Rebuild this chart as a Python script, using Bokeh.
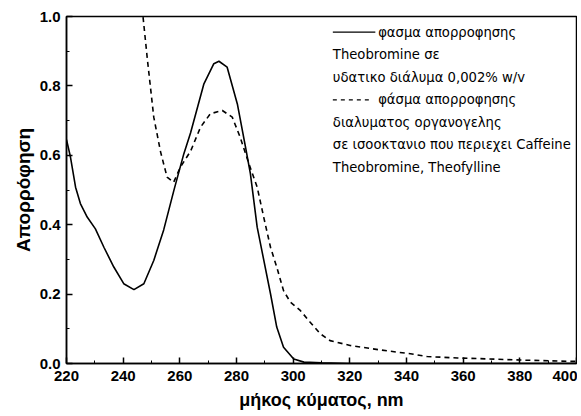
from bokeh.plotting import figure
from bokeh.embed import file_html
from bokeh.resources import INLINE
from bokeh.models import Range1d, FixedTicker, PrintfTickFormatter, Label, Arrow

# Solid curve: Theobromine in aqueous solution
wl_solid = [220, 221.4, 223.2, 224.9, 227.3, 230.2, 233.2, 236.7, 240.2, 243.8, 247.3, 250.8,
            254.3, 257.9, 261.4, 263.8, 268.5, 272, 273.8, 276.7, 280.3, 283.2, 284.9, 287.3,
            292, 294.2, 296.6, 300.2, 303.8, 310, 320, 340, 360, 380, 400]
abs_solid = [0.645, 0.595, 0.508, 0.461, 0.422, 0.388, 0.335, 0.278, 0.230, 0.213, 0.230, 0.297,
             0.385, 0.499, 0.604, 0.665, 0.806, 0.864, 0.871, 0.854, 0.748, 0.623, 0.547, 0.393,
             0.201, 0.105, 0.047, 0.013, 0.004, 0.002, 0.0, 0.0, 0.0, 0.0, 0.0]

# Dashed curve: organogel solution in isooctane
wl_dash = [246.5, 247, 248.5, 250.8, 253.2, 255.5, 257.8, 260.2, 263.8, 267.3, 270.8, 275,
           278.5, 281.3, 284.4, 287.3, 289.6, 292, 294.2, 296.6, 299, 302.5, 306, 309.5, 313,
           320.1, 330.8, 341.4, 347.3, 358, 365.8, 380, 398.5, 400]
abs_dash = [1.05, 1.0, 0.88, 0.71, 0.61, 0.537, 0.522, 0.566, 0.612, 0.681, 0.720, 0.729,
            0.710, 0.652, 0.575, 0.508, 0.422, 0.335, 0.278, 0.210, 0.177, 0.153, 0.119, 0.086,
            0.066, 0.052, 0.039, 0.028, 0.020, 0.016, 0.014, 0.010, 0.006, 0.006]

x_ticks = [220, 240, 260, 280, 300, 320, 340, 360, 380, 400]
y_ticks = [0.0, 0.2, 0.4, 0.6, 0.8, 1.0]

legend_lines = ["φασμα απορροφησης", "Theobromine σε", "υδατικο διάλυμα 0,002% w/v",
                "φάσμα απορροφησης", "διαλυματος οργανογελης",
                "σε ισοοκτανιο που περιεχει Caffeine", "Theobromine, Theofylline"]
x_title = "μήκος κύματος, nm"
y_title = "Απορρόφηση"

p = figure(width=577, height=414, output_backend="svg", toolbar_location=None,
           x_range=Range1d(220, 400), y_range=Range1d(0, 1.0),
           min_border_left=66, min_border_right=1, min_border_top=16, min_border_bottom=51)
p.background_fill_color = "white"
p.border_fill_color = "white"
p.grid.visible = False
p.outline_line_color = "black"
p.outline_line_width = 1.5

p.line(wl_solid, abs_solid, line_color="black", line_width=1.6)
p.line(wl_dash, abs_dash, line_color="black", line_width=1.6, line_dash="5 4")

for ax in (p.xaxis[0], p.yaxis[0]):
    ax.axis_line_color = "black"
    ax.axis_line_width = 1.5
    ax.major_tick_in = 6
    ax.major_tick_out = 0
    ax.minor_tick_in = 3
    ax.minor_tick_out = 0
    ax.major_tick_line_width = 1.5
    ax.major_label_text_font = "Liberation Sans"
    ax.major_label_text_font_style = "bold"
    ax.major_label_text_font_size = "15px"
    ax.major_label_text_color = "black"
    ax.axis_label_text_font = "Liberation Sans"
    ax.axis_label_text_font_style = "bold"
    ax.axis_label_text_color = "black"

p.xaxis.ticker = FixedTicker(ticks=x_ticks, minor_ticks=list(range(220, 401, 10)))
p.yaxis.ticker = FixedTicker(ticks=y_ticks, minor_ticks=[i / 10 for i in range(11)])
p.yaxis.formatter = PrintfTickFormatter(format="%.1f")
p.xaxis.axis_label = x_title
p.yaxis.axis_label = y_title
p.xaxis.axis_label_text_font_size = "18px"
p.yaxis.axis_label_text_font_size = "19px"
p.xaxis.axis_label_standoff = 6
p.yaxis.axis_label_standoff = 3
p.xaxis.major_label_standoff = 7
p.yaxis.major_label_standoff = 6

# legend keys and texts
row_y = [0.955, 0.890, 0.825, 0.760, 0.695, 0.630, 0.565]
p.add_layout(Arrow(end=None, x_start=314.0, x_end=329.0, y_start=row_y[0], y_end=row_y[0],
                   line_color="black", line_width=1.3))
p.add_layout(Arrow(end=None, x_start=314.0, x_end=328.0, y_start=row_y[3], y_end=row_y[3],
                   line_color="black", line_width=1.3, line_dash="4 4"))

for i, t in enumerate(legend_lines):
    xs = 330.0 if i in (0, 3) else 314.0
    p.add_layout(Label(x=xs, y=row_y[i], text=t, text_font="DejaVu Sans",
                       text_font_size="13.2px", text_baseline="middle", text_color="black"))

open("out.html", "w").write(file_html(p, INLINE))
